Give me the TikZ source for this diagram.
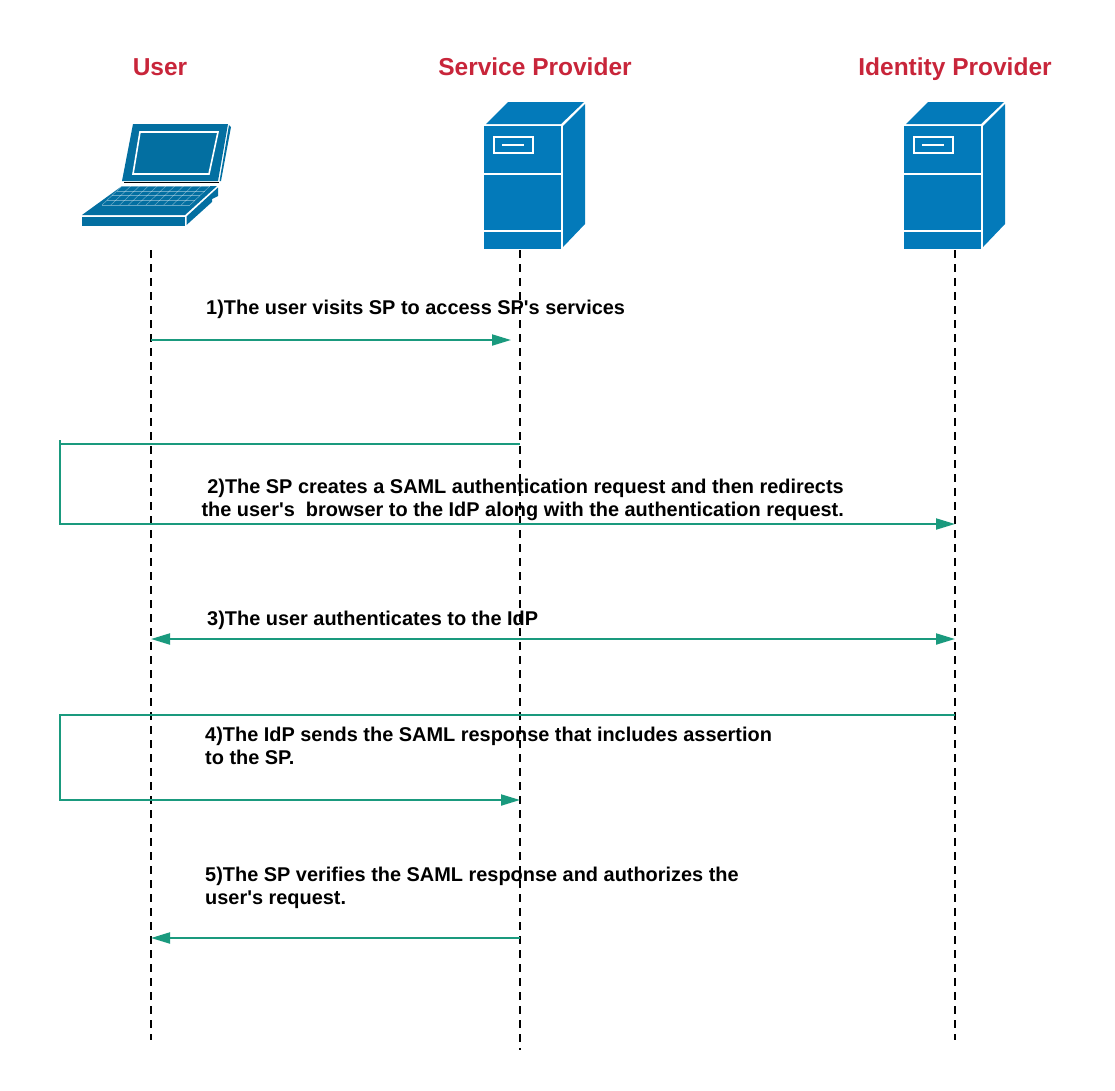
\documentclass[tikz,border=0pt]{standalone}
\usepackage{fontspec}
\setmainfont{Liberation Sans}
\usetikzlibrary{arrows.meta}
\definecolor{titlered}{HTML}{C8253A}
\definecolor{flow}{HTML}{1A9A7E}
\definecolor{srv}{HTML}{037ABA}
\definecolor{lap}{HTML}{036FA1}
\tikzset{
  x=1pt,y=-1pt,
  titletext/.style={font=\bfseries\fontsize{24.5}{28}\selectfont,text=titlered,inner sep=0pt,anchor=base},
  msgtext/.style={font=\bfseries\fontsize{19.92}{23}\selectfont,text=black,inner sep=0pt,anchor=base west},
  lifeline/.style={draw=black,line width=2pt,dash pattern=on 8pt off 6pt},
  flowline/.style={draw=flow,line width=2pt},
  tip/.style={-{Triangle[length=19pt,width=11pt,fill=flow]}},
  tipboth/.style={{Triangle[length=19pt,width=11pt,fill=flow]}-{Triangle[length=19pt,width=11pt,fill=flow]}},
  wline/.style={draw=white,line width=2pt},
  server/.pic={
    \fill[srv] (484,126) -- (561,126) -- (561,249) -- (484,249) -- cycle;
    \fill[srv] (486,124) -- (508,102) -- (584,102) -- (561,124) -- cycle;
    \fill[srv] (563,126) -- (585,104) -- (585,224) -- (563,247) -- cycle;
    \draw[wline] (484,174) -- (561,174);
    \draw[wline] (484,231) -- (561,231);
    \draw[wline] (493.5,136.5) rectangle (532.5,153);
    \draw[wline] (502,145) -- (524,145);
  },
}
\begin{document}
\begin{tikzpicture}
\useasboundingbox (0,0) rectangle (1115,1090);
% titles
\node[titletext] (tu) at (160,75.5) {User};
\node[titletext] (ts) at (535,75.5) {Service Provider};
\node[titletext] (ti) at (955,75.5) {Identity Provider};
% laptop
\fill[lap] (133,124) -- (228,124) -- (218,181) -- (122,181) -- cycle;
\fill[lap] (229,125) -- (231,127) -- (221,181) -- (219.5,181) -- cycle;
\draw[white,line width=1.6pt] (140,132) -- (218,132) -- (209,174) -- (133,174) -- cycle;
\draw[black,line width=1pt] (124,182.3) -- (219,182.3);
\fill[lap] (122,186) -- (217,186) -- (185,215) -- (82,215) -- cycle;
\fill[lap] (82,216.5) -- (185,216.5) -- (185,226) -- (82,226) -- cycle;
\fill[lap] (186.5,216.5) -- (218,187.5) -- (218,196) -- (212,199) -- (212,202) -- (186.5,225) -- cycle;
\begin{scope}[line width=0.5pt]
  \foreach \t in {0,0.25,0.5,0.75,1}
    \draw[white,opacity=.4] ({122-20*\t},{186+19*\t}) -- ({210-20*\t},{186+19*\t});
  \foreach \t in {0,0.1,...,1.01}
    \draw[white,opacity=.4] ({122+88*\t},186) -- ({102+88*\t},205);
\end{scope}
% servers
\pic at (0,0) {server};
\pic at (420,0) {server};
% lifelines
\coordinate (ua) at (151,250); \coordinate (ub) at (151,1040);
\coordinate (sa) at (520,250); \coordinate (sb) at (520,1050);
\coordinate (ia) at (955,250); \coordinate (ib) at (955,1040);
\draw[lifeline] (ua) -- (ub);
\draw[lifeline] (sa) -- (sb);
\draw[lifeline] (ia) -- (ib);
% messages
\coordinate (m1a) at (151,340); \coordinate (m1b) at (511,340);
\draw[flowline,tip] (m1a) -- (m1b);
\coordinate (m2a) at (520,444); \coordinate (m2k) at (60,444); \coordinate (m2t) at (60,440);
\coordinate (m2l) at (60,524); \coordinate (m2b) at (955,524);
\draw[flowline] (m2a) -- (m2k);
\draw[flowline,tip] (m2t) -- (m2l) -- (m2b);
\coordinate (m3a) at (151,639); \coordinate (m3b) at (955,639);
\draw[flowline,tipboth] (m3a) -- (m3b);
\coordinate (m4a) at (955,715); \coordinate (m4k) at (60,715);
\coordinate (m4l) at (60,800); \coordinate (m4b) at (520,800);
\draw[flowline,tip] (m4a) -- (m4k) -- (m4l) -- (m4b);
\coordinate (m5a) at (520,938); \coordinate (m5b) at (151,938);
\draw[flowline,tip] (m5a) -- (m5b);
% labels
\node[msgtext] (l1) at (206,314) {1)The user visits SP to access SP\textquotesingle s services};
\node[msgtext,anchor=base east] (l2a) at (844,493) {2)The SP creates a SAML authentication request and then redirects};
\node[msgtext,anchor=base east] (l2b) at (844,516) {the user\textquotesingle s\ \ browser to the IdP along with the authentication request.};
\node[msgtext] (l3) at (207,625) {3)The user authenticates to the IdP};
\node[msgtext] (l4a) at (205,741) {4)The IdP sends the SAML response that includes assertion};
\node[msgtext] (l4b) at (205,764) {to the SP.};
\node[msgtext] (l5a) at (205,881) {5)The SP verifies the SAML response and authorizes the};
\node[msgtext] (l5b) at (205,904) {user\textquotesingle s request.};
\end{tikzpicture}
\end{document}
